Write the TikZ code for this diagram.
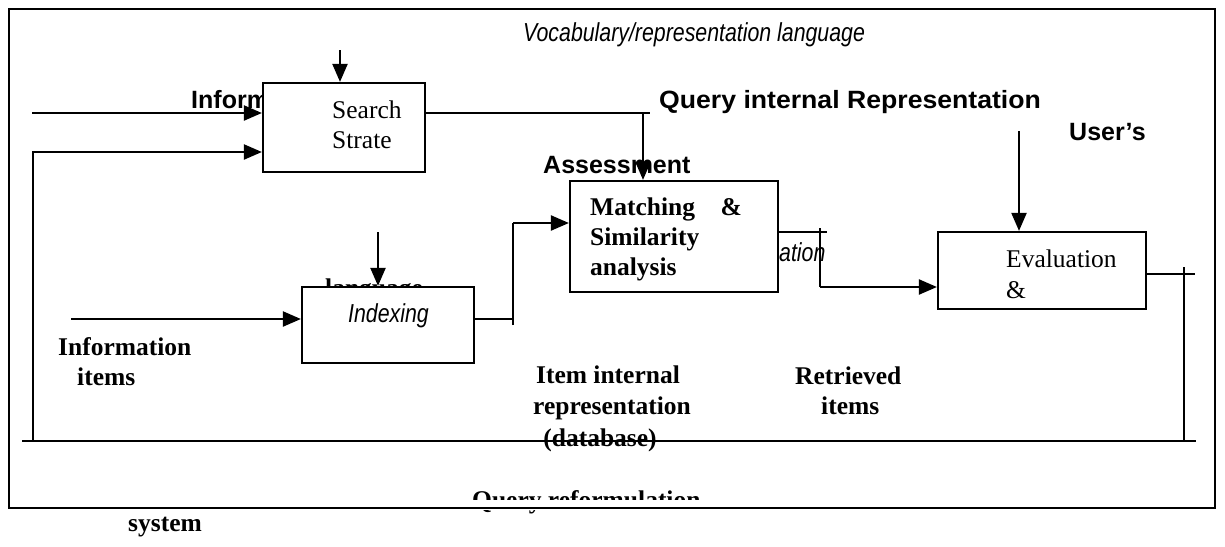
\documentclass[tikz,border=0pt]{standalone}
\usepackage{fontspec}
\usepackage{graphicx}
\setmainfont{Liberation Serif}
\newfontfamily\arial{Liberation Sans}
\usetikzlibrary{arrows.meta}

\tikzset{
  frame/.style={line width=2.6pt},
  box/.style={draw, fill=white, line width=2.2pt, inner sep=0pt},
  conn/.style={line width=2.2pt},
  arr/.style={conn, -{Triangle[length=18pt,width=15pt]}},
  lbl/.style={inner sep=0pt, anchor=base west},
  clbl/.style={inner sep=0pt, anchor=base},
  serif/.style={font=\fontsize{25.5}{30}\selectfont},
  serifb/.style={font=\fontsize{25.5}{30}\selectfont\bfseries},
  sansb/.style={font=\arial\fontsize{25}{30}\selectfont\bfseries},
  sansi/.style={font=\arial\fontsize{26}{30}\selectfont\itshape},
}
\newcommand{\narrow}[1]{\scalebox{0.82}[1]{#1}}
\newcommand{\wide}[1]{\scalebox{1.065}[1]{#1}}

\begin{document}
\begin{tikzpicture}[x=1pt, y=-1pt]
\useasboundingbox (0,0) rectangle (1225,546);

% outer frame
\draw[frame, fill=white] (9,9) rectangle (1215,508);

% reformulation label: only its top and the tail of the y show
\begin{scope}
  \clip (9,480) rectangle (1215,499) (9,510) rectangle (1215,520);
  \node[lbl, serifb] (reform) at (472,508) {Query reformulation};
\end{scope}

% labels partly hidden behind the boxes
\node[lbl, sansb] (inform) at (191,108) {Inform};
\node[lbl, serifb] (lang) at (325,296) {language};
\node[lbl, sansi] (ation) at (779,261) {\narrow{ation}};

% process boxes
\node[box, minimum width=162pt, minimum height=89pt] (search) at (344,127.5) {};
\node[box, minimum width=208pt, minimum height=111pt] (match) at (674,236.5) {};
\node[box, minimum width=172pt, minimum height=76pt] (index) at (388,325) {};
\node[box, minimum width=208pt, minimum height=77pt] (eval) at (1042,270.5) {};

% box texts
\node[lbl, serif] (srchA) at (332,118) {Search};
\node[lbl, serif] (srchB) at (332,148) {Strate};
\node[lbl, serifb] (matA) at (590,215) {Matching\ \ \ \ \&};
\node[lbl, serifb] (matB) at (590,245) {Similarity};
\node[lbl, serifb] (matC) at (590,275) {analysis};
\node[lbl, sansi] (idx) at (348,322) {\narrow{Indexing}};
\node[lbl, serif] (evA) at (1006,267) {Evaluation};
\node[lbl, serif] (evB) at (1006,298) {\&};

% free labels
\node[lbl, sansi] (vocab) at (523,41) {\narrow{Vocabulary/representation language}};
\node[lbl, sansb] (qir) at (659,108) {\wide{Query internal Representation}};
\node[lbl, sansb] (assess) at (543,173) {Assessment};
\node[lbl, sansb] (users) at (1069,140) {User’s};
\node[lbl, serifb] (infA) at (58,355) {Information};
\node[lbl, serifb] (infB) at (77,385) {items};
\node[clbl, serifb] (iirA) at (608,383) {Item internal};
\node[clbl, serifb] (iirB) at (612,414) {representation};
\node[clbl, serifb] (iirC) at (600,446) {(database)};
\node[lbl, serifb] (retA) at (795,384) {Retrieved};
\node[lbl, serifb] (retB) at (821,414) {items};
\node[lbl, serifb] (sys) at (128,531) {system};

% connector end points
\coordinate (inA) at (32,113);
\coordinate (topS) at (340,50);
\coordinate (lpTop) at (33,152);
\coordinate (lpBot) at (33,441);
\coordinate (qEnd) at (650,113);
\coordinate (qDrop) at (643,113);
\coordinate (mOut) at (827,232);
\coordinate (mTickTop) at (820,228);
\coordinate (mTickBot) at (820,287);
\coordinate (uTop) at (1019,131);
\coordinate (eOut) at (1195,274);
\coordinate (eTick) at (1184,267);
\coordinate (eDown) at (1184,441);
\coordinate (lTop) at (378,232);
\coordinate (iIn) at (71,319);
\coordinate (xOut) at (513,319);
\coordinate (xTop) at (513,223);
\coordinate (xBot) at (513,325);
\coordinate (fbL) at (22,441);
\coordinate (fbR) at (1196,441);

% search strategy inputs
\draw[arr] (inA) -- (inA -| search.west);
\draw[arr] (topS) -- (topS |- search.north);
\draw[arr] (lpBot) -- (lpTop) -- (lpTop -| search.west);

% query representation into matching
\draw[conn] (search.east |- qEnd) -- (qEnd);
\draw[arr] (qDrop) -- (qDrop |- match.north);

% indexing path
\draw[arr] (lTop) -- (lTop |- index.north);
\draw[arr] (iIn) -- (iIn -| index.west);
\draw[conn] (index.east |- xOut) -- (xOut);
\draw[conn] (xBot) -- (xTop);
\draw[arr] (xTop) -- (xTop -| match.west);

% retrieved items into evaluation
\draw[conn] (match.east |- mOut) -- (mOut);
\draw[conn] (mTickTop) -- (mTickBot);
\draw[arr] (mTickBot) -- (mTickBot -| eval.west);
\draw[arr] (uTop) -- (uTop |- eval.north);

% feedback loop
\draw[conn] (eval.east |- eOut) -- (eOut);
\draw[conn] (eTick) -- (eDown);
\draw[conn] (fbL) -- (fbR);
\end{tikzpicture}
\end{document}
